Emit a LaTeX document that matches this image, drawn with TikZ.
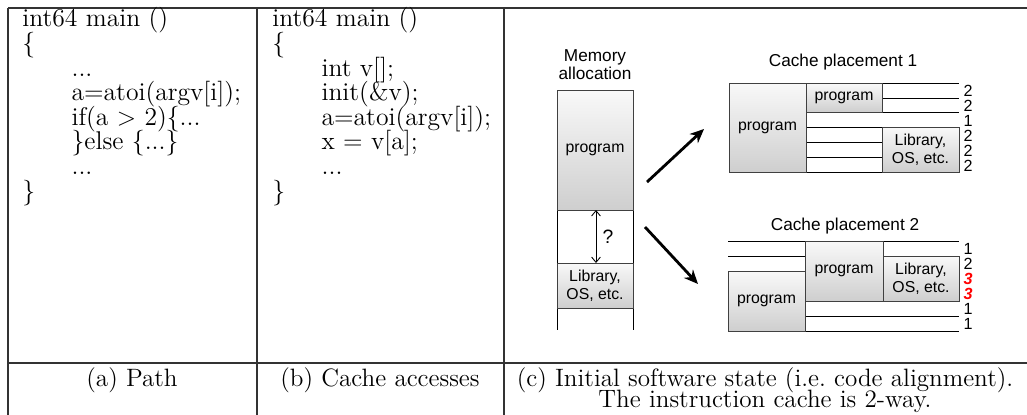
\documentclass[tikz,border=0pt]{standalone}
\usepackage{fontspec}
\setsansfont{Liberation Sans}
\usetikzlibrary{arrows.meta,shadows}
\newcommand\codefont{\fontsize{14.6}{14}\selectfont\lineskiplimit=-20pt\relax}
\newcommand\capfont{\fontsize{14.3}{12.2}\selectfont\lineskiplimit=-20pt\relax}
\tikzset{
  rule/.style={draw=black!80, line width=0.8pt},
  blk/.style={draw=black!75, line width=0.5pt, top color=gray!5, bottom color=gray!38,
    drop shadow={opacity=0.3, shadow xshift=0.8pt, shadow yshift=-0.8pt}},
  way/.style={draw=black, line width=0.5pt},
  code/.style={anchor=base west, align=left, inner sep=0pt, font=\codefont},
  captext/.style={anchor=base, align=center, inner sep=0pt, font=\capfont},
  sf/.style={font=\sffamily\fontsize{9}{10.2}\selectfont, align=center, inner sep=0pt},
  ttl/.style={font=\sffamily\fontsize{9.8}{10.4}\selectfont, align=center, inner sep=0pt},
  cnt/.style={font=\sffamily\fontsize{9.2}{10}\selectfont, inner sep=0pt},
  hot/.style={cnt, text=red, font=\sffamily\bfseries\itshape\fontsize{9.2}{10}\selectfont},
  bigarrow/.style={-{Stealth[length=8pt,width=7pt]}, line width=1.6pt},
  gaparrow/.style={{Straight Barb[length=3pt,width=5pt]}-{Straight Barb[length=3pt,width=5pt]}, line width=0.5pt}
}
\begin{document}
\begin{tikzpicture}[x=0.02cm, y=-0.02cm]
  \useasboundingbox (0,0) rectangle (1027,414);
  \draw[rule] (8,8) -- (1030,8);
  \draw[rule] (8,363) -- (1030,363);
  \foreach \x in {8,257,504}
    \draw[rule] (\x,8) -- (\x,416);
  \def\ind{\hspace*{28pt}}
  \node[code] (pathcode) at (22,199) {int64 main ()\\
    \{\\
    \ind...\\
    \ind a=atoi(argv[i]);\\
    \ind if(a $>$ 2)\{...\\
    \ind\}else \{...\}\\
    \ind...\\
    \}};
  \node[code] (cachecode) at (272,199) {int64 main ()\\
    \{\\
    \ind int v[];\\
    \ind init(\&v);\\
    \ind a=atoi(argv[i]);\\
    \ind x = v[a];\\
    \ind...\\
    \}};
  \node[captext] (capa) at (132,386) {(a) Path};
  \node[captext] (capb) at (380,386) {(b) Cache accesses};
  \node[captext] (capc) at (765,407.5) {(c) Initial software state (i.e.\ code alignment).\\
    The instruction cache is 2-way.};
  % memory allocation
  \node[ttl] (memtitle) at (595,65) {Memory\\allocation};
  \draw[way] (557,90) -- (557,330);
  \draw[way] (633,90) -- (633,330);
  \draw[blk] (557,90) rectangle (633,210);
  \node[sf] (memprog) at (595,150) {program};
  \draw[blk] (557,263) rectangle (633,308);
  \node[sf] (memlib) at (595,285.5) {Library,\\OS, etc.};
  \coordinate (gaptop) at (596,210);
  \coordinate (gapbot) at (596,263);
  \draw[gaparrow] (gaptop) -- (gapbot);
  \node[font=\sffamily\fontsize{11}{12}\selectfont, inner sep=0pt] (gapq) at (608,237) {?};
  \coordinate (upfrom) at (647,182);
  \coordinate (upto) at (704,129);
  \coordinate (downfrom) at (645,227);
  \coordinate (downto) at (698,284);
  \draw[bigarrow] (upfrom) -- (upto);
  \draw[bigarrow] (downfrom) -- (downto);
  % cache placement 1
  \node[ttl] (titleone) at (843,62) {Cache placement 1};
  \draw[way] (806,83) -- (959,83);
  \draw[way] (882,98) -- (959,98);
  \foreach \y in {112,127,172}
    \draw[way] (806,\y) -- (959,\y);
  \foreach \y in {142,157}
    \draw[way] (806,\y) -- (882,\y);
  \draw[blk] (729,83) rectangle (806,172);
  \node[sf] (oneprog) at (767.5,127.5) {program};
  \draw[blk] (806,83) rectangle (882,112);
  \node[sf] (onesmall) at (844,97.5) {program};
  \draw[blk] (882,127) rectangle (959,172);
  \node[sf] (onelib) at (920.5,149.5) {Library,\\OS, etc.};
  \foreach \n [count=\i] in {2,2,1,2,2,2}
    \node[cnt] (one\i) at (968,75.5+15*\i) {\n};
  % cache placement 2
  \node[ttl] (titletwo) at (845,226) {Cache placement 2};
  \draw[way] (728,241) -- (959,241);
  \draw[way] (728,256) -- (805,256);
  \foreach \y in {316,331}
    \draw[way] (805,\y) -- (959,\y);
  \draw[blk] (728,271) rectangle (805,331);
  \node[sf] (twoprog) at (766.5,301) {program};
  \draw[blk] (805,241) rectangle (883,301);
  \node[sf] (twomid) at (844,271) {program};
  \draw[blk] (883,256) rectangle (959,301);
  \node[sf] (twolib) at (921,278.5) {Library,\\OS, etc.};
  \foreach \n/\s [count=\i] in {1/cnt,2/cnt,3/hot,3/hot,1/cnt,1/cnt}
    \node[\s] (two\i) at (968,233.5+15*\i) {\n};
\end{tikzpicture}
\end{document}
